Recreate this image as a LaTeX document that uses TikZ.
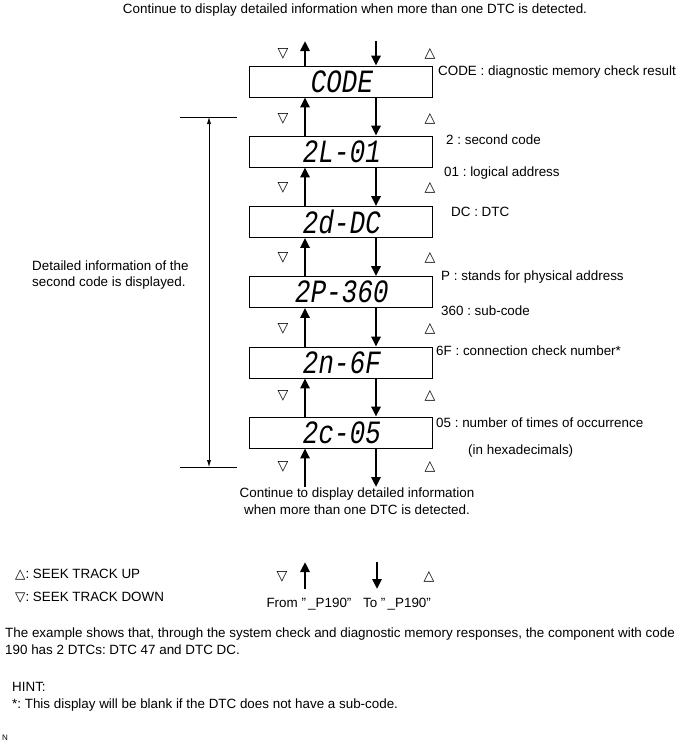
\documentclass[tikz,border=0pt]{standalone}
\usepackage{graphicx}
\usepackage{fontspec}
\setmainfont{Liberation Sans}
\newfontfamily\symfont{DejaVu Sans}
\newfontfamily\lcdfont[FakeSlant=0.2]{Liberation Mono}
\usetikzlibrary{arrows.meta,positioning}
\frenchspacing

\begin{document}
\begin{tikzpicture}[x=1pt, y=-1pt,
    lcd/.style={draw, line width=0.6pt, minimum width=183pt, minimum height=31pt, inner sep=0pt,
      font=\lcdfont\fontsize{26}{26}\selectfont},
    txt/.style={anchor=west, inner sep=0pt, align=left, font=\fontsize{13.4}{16.5}\selectfont},
    ctxt/.style={inner sep=0pt, align=center, font=\fontsize{13.4}{16.5}\selectfont},
    tri/.style={inner sep=0pt, font=\symfont\fontsize{14}{14}\selectfont},
    bigarr/.style={line width=2.6pt, -{Triangle[width=9pt,length=10pt]}},
    dimarr/.style={line width=0.6pt, {Latex[length=7pt,width=4pt]}-{Latex[length=7pt,width=4pt]}}
  ]
  \useasboundingbox (0,0) rectangle (682,744);

  % Title
  \node[ctxt] (title) at (355,10) {Continue to display detailed information when more than one DTC is detected.};

  % Displays
  \node[lcd] (d1) at (340.5,81.5)  {\scalebox{1}[1.25]{CODE}};
  \node[lcd] (d2) at (340.5,151.5) {\scalebox{1}[1.25]{2L-01}};
  \node[lcd] (d3) at (340.5,222)   {\scalebox{1}[1.25]{2d-DC}};
  \node[lcd] (d4) at (340.5,292)   {\scalebox{1}[1.25]{2P-360}};
  \node[lcd] (d5) at (340.5,362.5) {\scalebox{1}[1.25]{2n-6F}};
  \node[lcd] (d6) at (340.5,432.5) {\scalebox{1}[1.25]{2c-05}};

  % Arrows between displays
  \coordinate (inup) at (305,41);
  \coordinate (indn) at (376,41);
  \coordinate (outup) at (305,487);
  \coordinate (outdn) at (376,487);
  \draw[bigarr] ([xshift=-35.5pt]d1.north) -- (inup);
  \draw[bigarr] (indn) -- ([xshift=35.5pt]d1.north);
  \foreach \a/\b in {d1/d2, d2/d3, d3/d4, d4/d5, d5/d6} {
    \draw[bigarr] ([xshift=-35.5pt]\b.north) -- ([xshift=-35.5pt]\a.south);
    \draw[bigarr] ([xshift=35.5pt]\a.south) -- ([xshift=35.5pt]\b.north);
  }
  \draw[bigarr] (outup) -- ([xshift=-35.5pt]d6.south);
  \draw[bigarr] ([xshift=35.5pt]d6.south) -- (outdn);

  % Seek marks
  \foreach \y [count=\i] in {54,119,188,258,329,396,467} {
    \node[tri] (dn\i) at (283,\y) {▽};
    \node[tri] (up\i) at (430,\y) {△};
  }

  % Notes
  \node[txt] (n1) at (438,72)  {CODE : diagnostic memory check result};
  \node[txt] (n2) at (446,140) {2 : second code};
  \node[txt] (n3) at (444,173) {01 : logical address};
  \node[txt] (n4) at (451,212) {DC : DTC};
  \node[txt] (n5) at (441,277) {P : stands for physical address};
  \node[txt] (n6) at (441,311) {360 : sub-code};
  \node[txt] (n7) at (436,351) {6F : connection check number*};
  \node[txt] (n8) at (436,423) {05 : number of times of occurrence};
  \node[txt] (n9) at (468,451) {(in hexadecimals)};

  % Range of the second code
  \draw[line width=0.5pt] (180,117) -- (237,117);
  \draw[line width=0.5pt] (180,467) -- (237,467);
  \coordinate (dimtop) at (209,117);
  \coordinate (dimbot) at (209,467);
  \draw[dimarr] (dimtop) -- (dimbot);
  \node[txt] (range) at (32,275) {Detailed information of the\\second code is displayed.};

  \node[ctxt] (more) at (357,501) {Continue to display detailed information\\when more than one DTC is detected.};

  % Legend
  \node[txt] (lgup) at (15,575) {{\symfont△}: SEEK TRACK UP};
  \node[txt] (lgdn) at (15,598) {{\symfont▽}: SEEK TRACK DOWN};
  \node[tri] (lgtd) at (282,577) {▽};
  \node[tri] (lgtu) at (429,577) {△};
  \coordinate (fromtail) at (305,589);
  \coordinate (fromhead) at (305,562);
  \coordinate (totail) at (377,562);
  \coordinate (tohead) at (377,589);
  \draw[bigarr] (fromtail) -- (fromhead);
  \draw[bigarr] (totail) -- (tohead);
  \node[ctxt] (from) at (309,604) {From "\,\_P190"};
  \node[ctxt] (to) at (397,604) {To "\,\_P190"};

  % Remarks
  \node[txt] (expl) at (5,641) {The example shows that, through the system check and diagnostic memory responses, the component with code\\190 has 2 DTCs: DTC 47 and DTC DC.};
  \node[txt] (hint) at (12,697) {HINT:\\*: This display will be blank if the DTC does not have a sub-code.};
  \node[txt, font=\fontsize{8}{8}\selectfont] (mark) at (2,738) {N};
\end{tikzpicture}
\end{document}
